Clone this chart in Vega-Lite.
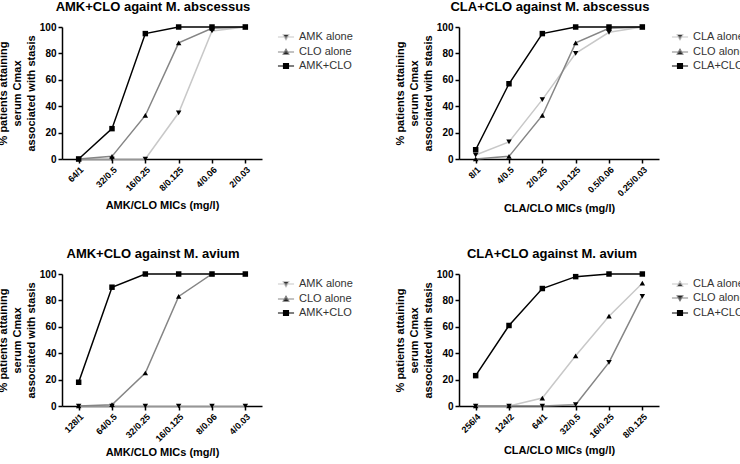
{
  "$schema": "https://vega.github.io/schema/vega-lite/v6.json",
  "background": "white",
  "padding": {"left": -3, "top": 1, "right": 0, "bottom": 0},
  "datasets": {
    "p1": [
      {"mic": "64/1", "series": "AMK alone", "pct": 0},
      {"mic": "32/0.5", "series": "AMK alone", "pct": 0},
      {"mic": "16/0.25", "series": "AMK alone", "pct": 0},
      {"mic": "8/0.125", "series": "AMK alone", "pct": 35},
      {"mic": "4/0.06", "series": "AMK alone", "pct": 97},
      {"mic": "2/0.03", "series": "AMK alone", "pct": 100},
      {"mic": "64/1", "series": "CLO alone", "pct": 0},
      {"mic": "32/0.5", "series": "CLO alone", "pct": 2},
      {"mic": "16/0.25", "series": "CLO alone", "pct": 33},
      {"mic": "8/0.125", "series": "CLO alone", "pct": 88},
      {"mic": "4/0.06", "series": "CLO alone", "pct": 99},
      {"mic": "2/0.03", "series": "CLO alone", "pct": 100},
      {"mic": "64/1", "series": "AMK+CLO", "pct": 0},
      {"mic": "32/0.5", "series": "AMK+CLO", "pct": 23},
      {"mic": "16/0.25", "series": "AMK+CLO", "pct": 95},
      {"mic": "8/0.125", "series": "AMK+CLO", "pct": 100},
      {"mic": "4/0.06", "series": "AMK+CLO", "pct": 100},
      {"mic": "2/0.03", "series": "AMK+CLO", "pct": 100}
    ],
    "p2": [
      {"mic": "8/1", "series": "CLA alone", "pct": 3},
      {"mic": "4/0.5", "series": "CLA alone", "pct": 13},
      {"mic": "2/0.25", "series": "CLA alone", "pct": 45},
      {"mic": "1/0.125", "series": "CLA alone", "pct": 80},
      {"mic": "0.5/0.06", "series": "CLA alone", "pct": 96},
      {"mic": "0.25/0.03", "series": "CLA alone", "pct": 100},
      {"mic": "8/1", "series": "CLO alone", "pct": 0},
      {"mic": "4/0.5", "series": "CLO alone", "pct": 2},
      {"mic": "2/0.25", "series": "CLO alone", "pct": 33},
      {"mic": "1/0.125", "series": "CLO alone", "pct": 88},
      {"mic": "0.5/0.06", "series": "CLO alone", "pct": 99},
      {"mic": "0.25/0.03", "series": "CLO alone", "pct": 100},
      {"mic": "8/1", "series": "CLA+CLO", "pct": 7},
      {"mic": "4/0.5", "series": "CLA+CLO", "pct": 57},
      {"mic": "2/0.25", "series": "CLA+CLO", "pct": 95},
      {"mic": "1/0.125", "series": "CLA+CLO", "pct": 100},
      {"mic": "0.5/0.06", "series": "CLA+CLO", "pct": 100},
      {"mic": "0.25/0.03", "series": "CLA+CLO", "pct": 100}
    ],
    "p3": [
      {"mic": "128/1", "series": "AMK alone", "pct": 0},
      {"mic": "64/0.5", "series": "AMK alone", "pct": 0},
      {"mic": "32/0.25", "series": "AMK alone", "pct": 0},
      {"mic": "16/0.125", "series": "AMK alone", "pct": 0},
      {"mic": "8/0.06", "series": "AMK alone", "pct": 0},
      {"mic": "4/0.03", "series": "AMK alone", "pct": 0},
      {"mic": "128/1", "series": "CLO alone", "pct": 0},
      {"mic": "64/0.5", "series": "CLO alone", "pct": 1},
      {"mic": "32/0.25", "series": "CLO alone", "pct": 25},
      {"mic": "16/0.125", "series": "CLO alone", "pct": 83},
      {"mic": "8/0.06", "series": "CLO alone", "pct": 100},
      {"mic": "4/0.03", "series": "CLO alone", "pct": 100},
      {"mic": "128/1", "series": "AMK+CLO", "pct": 18},
      {"mic": "64/0.5", "series": "AMK+CLO", "pct": 90},
      {"mic": "32/0.25", "series": "AMK+CLO", "pct": 100},
      {"mic": "16/0.125", "series": "AMK+CLO", "pct": 100},
      {"mic": "8/0.06", "series": "AMK+CLO", "pct": 100},
      {"mic": "4/0.03", "series": "AMK+CLO", "pct": 100}
    ],
    "p4": [
      {"mic": "256/4", "series": "CLA alone", "pct": 0},
      {"mic": "124/2", "series": "CLA alone", "pct": 0},
      {"mic": "64/1", "series": "CLA alone", "pct": 6},
      {"mic": "32/0.5", "series": "CLA alone", "pct": 38},
      {"mic": "16/0.25", "series": "CLA alone", "pct": 68},
      {"mic": "8/0.125", "series": "CLA alone", "pct": 93},
      {"mic": "256/4", "series": "CLO alone", "pct": 0},
      {"mic": "124/2", "series": "CLO alone", "pct": 0},
      {"mic": "64/1", "series": "CLO alone", "pct": 0},
      {"mic": "32/0.5", "series": "CLO alone", "pct": 1},
      {"mic": "16/0.25", "series": "CLO alone", "pct": 33},
      {"mic": "8/0.125", "series": "CLO alone", "pct": 83},
      {"mic": "256/4", "series": "CLA+CLO", "pct": 23},
      {"mic": "124/2", "series": "CLA+CLO", "pct": 61},
      {"mic": "64/1", "series": "CLA+CLO", "pct": 89},
      {"mic": "32/0.5", "series": "CLA+CLO", "pct": 98},
      {"mic": "16/0.25", "series": "CLA+CLO", "pct": 100},
      {"mic": "8/0.125", "series": "CLA+CLO", "pct": 100}
    ]
  },
  "vconcat": [
    {
      "hconcat": [
        {
          "width": 200, "height": 132,
          "title": {"text": "AMK+CLO againt M. abscessus", "dx": -9},
          "data": {"name": "p1"},
          "encoding": {
            "x": {"field": "mic", "type": "nominal", "sort": ["64/1", "32/0.5", "16/0.25", "8/0.125", "4/0.06", "2/0.03"], "scale": {"type": "point", "padding": 0.5}, "axis": {"title": "AMK/CLO MICs (mg/l)", "titlePadding": 7}},
            "y": {"field": "pct", "type": "quantitative", "scale": {"domain": [0, 100]}, "axis": {"title": ["% patients attaining", "serum Cmax", "associated with stasis"], "values": [0, 20, 40, 60, 80, 100]}}
          },
          "layer": [
            {"mark": {"type": "line", "strokeWidth": 1.5}, "encoding": {"color": {"field": "series", "type": "nominal", "scale": {"domain": ["AMK alone", "CLO alone", "AMK+CLO"], "range": ["#c8c8c8", "#858585", "#000000"]}, "legend": null}}},
            {"mark": {"type": "point", "filled": true, "color": "black", "size": 30, "opacity": 1}, "encoding": {"shape": {"field": "series", "type": "nominal", "scale": {"domain": ["AMK alone", "CLO alone", "AMK+CLO"], "range": ["triangle-down", "triangle-up", "square"]}, "legend": null}}},
            {"mark": {"type": "point", "filled": false, "fill": "black", "opacity": 0, "strokeWidth": 1.1},
             "encoding": {
               "color": {"field": "series", "type": "nominal", "scale": {"domain": ["AMK alone", "CLO alone", "AMK+CLO"], "range": ["#c8c8c8", "#858585", "#000000"]}, "legend": {"title": null, "symbolOpacity": 1, "symbolFillColor": "black", "encode": {"symbols": {"fill": {"value": "black"}, "strokeWidth": {"value": 1.1}}}}},
               "shape": {"field": "series", "type": "nominal", "scale": {"domain": ["AMK alone", "CLO alone", "AMK+CLO"], "range": ["M-1.15,0H1.15M-0.42,-0.32L0.42,-0.32L0,0.42Z", "M-1.15,0H1.15M-0.42,0.32L0,-0.42L0.42,0.32Z", "M-1.15,0H1.15M-0.36,-0.36H0.36V0.36H-0.36Z"]}, "legend": {"title": null, "symbolOpacity": 1, "symbolFillColor": "black", "encode": {"symbols": {"fill": {"value": "black"}, "strokeWidth": {"value": 1.1}}}}}
             }}
          ],
          "resolve": {"scale": {"color": "independent", "shape": "independent"}}
        },
        {
          "width": 200, "height": 132,
          "title": {"text": "CLA+CLO against M. abscessus", "dx": -9},
          "data": {"name": "p2"},
          "encoding": {
            "x": {"field": "mic", "type": "nominal", "sort": ["8/1", "4/0.5", "2/0.25", "1/0.125", "0.5/0.06", "0.25/0.03"], "scale": {"type": "point", "padding": 0.5}, "axis": {"title": "CLA/CLO MICs (mg/l)", "titlePadding": 5}},
            "y": {"field": "pct", "type": "quantitative", "scale": {"domain": [0, 100]}, "axis": {"title": ["% patients attaining", "serum Cmax", "associated with stasis"], "values": [0, 20, 40, 60, 80, 100]}}
          },
          "layer": [
            {"mark": {"type": "line", "strokeWidth": 1.5}, "encoding": {"color": {"field": "series", "type": "nominal", "scale": {"domain": ["CLA alone", "CLO alone", "CLA+CLO"], "range": ["#c8c8c8", "#858585", "#000000"]}, "legend": null}}},
            {"mark": {"type": "point", "filled": true, "color": "black", "size": 30, "opacity": 1}, "encoding": {"shape": {"field": "series", "type": "nominal", "scale": {"domain": ["CLA alone", "CLO alone", "CLA+CLO"], "range": ["triangle-down", "triangle-up", "square"]}, "legend": null}}},
            {"mark": {"type": "point", "filled": false, "fill": "black", "opacity": 0, "strokeWidth": 1.1},
             "encoding": {
               "color": {"field": "series", "type": "nominal", "scale": {"domain": ["CLA alone", "CLO alone", "CLA+CLO"], "range": ["#c8c8c8", "#858585", "#000000"]}, "legend": {"title": null, "symbolOpacity": 1, "symbolFillColor": "black", "offset": 11, "encode": {"symbols": {"fill": {"value": "black"}, "strokeWidth": {"value": 1.1}}}}},
               "shape": {"field": "series", "type": "nominal", "scale": {"domain": ["CLA alone", "CLO alone", "CLA+CLO"], "range": ["M-1.15,0H1.15M-0.42,-0.32L0.42,-0.32L0,0.42Z", "M-1.15,0H1.15M-0.42,0.32L0,-0.42L0.42,0.32Z", "M-1.15,0H1.15M-0.36,-0.36H0.36V0.36H-0.36Z"]}, "legend": {"title": null, "symbolOpacity": 1, "symbolFillColor": "black", "offset": 11, "encode": {"symbols": {"fill": {"value": "black"}, "strokeWidth": {"value": 1.1}}}}}
             }}
          ],
          "resolve": {"scale": {"color": "independent", "shape": "independent"}}
        }
      ],
      "spacing": 39,
      "resolve": {"scale": {"x": "independent", "y": "independent"}}
    },
    {
      "hconcat": [
        {
          "width": 200, "height": 132,
          "title": {"text": "AMK+CLO against M. avium", "dx": -9},
          "data": {"name": "p3"},
          "encoding": {
            "x": {"field": "mic", "type": "nominal", "sort": ["128/1", "64/0.5", "32/0.25", "16/0.125", "8/0.06", "4/0.03"], "scale": {"type": "point", "padding": 0.5}, "axis": {"title": "AMK/CLO MICs (mg/l)", "titlePadding": 3}},
            "y": {"field": "pct", "type": "quantitative", "scale": {"domain": [0, 100]}, "axis": {"title": ["% patients attaining", "serum Cmax", "associated with stasis"], "values": [0, 20, 40, 60, 80, 100]}}
          },
          "layer": [
            {"mark": {"type": "line", "strokeWidth": 1.5}, "encoding": {"color": {"field": "series", "type": "nominal", "scale": {"domain": ["AMK alone", "CLO alone", "AMK+CLO"], "range": ["#c8c8c8", "#858585", "#000000"]}, "legend": null}}},
            {"mark": {"type": "point", "filled": true, "color": "black", "size": 30, "opacity": 1}, "encoding": {"shape": {"field": "series", "type": "nominal", "scale": {"domain": ["AMK alone", "CLO alone", "AMK+CLO"], "range": ["triangle-down", "triangle-up", "square"]}, "legend": null}}},
            {"mark": {"type": "point", "filled": false, "fill": "black", "opacity": 0, "strokeWidth": 1.1},
             "encoding": {
               "color": {"field": "series", "type": "nominal", "scale": {"domain": ["AMK alone", "CLO alone", "AMK+CLO"], "range": ["#c8c8c8", "#858585", "#000000"]}, "legend": {"title": null, "symbolOpacity": 1, "symbolFillColor": "black", "encode": {"symbols": {"fill": {"value": "black"}, "strokeWidth": {"value": 1.1}}}}},
               "shape": {"field": "series", "type": "nominal", "scale": {"domain": ["AMK alone", "CLO alone", "AMK+CLO"], "range": ["M-1.15,0H1.15M-0.42,-0.32L0.42,-0.32L0,0.42Z", "M-1.15,0H1.15M-0.42,0.32L0,-0.42L0.42,0.32Z", "M-1.15,0H1.15M-0.36,-0.36H0.36V0.36H-0.36Z"]}, "legend": {"title": null, "symbolOpacity": 1, "symbolFillColor": "black", "encode": {"symbols": {"fill": {"value": "black"}, "strokeWidth": {"value": 1.1}}}}}
             }}
          ],
          "resolve": {"scale": {"color": "independent", "shape": "independent"}}
        },
        {
          "width": 200, "height": 132,
          "title": {"text": "CLA+CLO against M. avium", "dx": -7},
          "data": {"name": "p4"},
          "encoding": {
            "x": {"field": "mic", "type": "nominal", "sort": ["256/4", "124/2", "64/1", "32/0.5", "16/0.25", "8/0.125"], "scale": {"type": "point", "padding": 0.5}, "axis": {"title": "CLA/CLO MICs (mg/l)", "titlePadding": 5}},
            "y": {"field": "pct", "type": "quantitative", "scale": {"domain": [0, 100]}, "axis": {"title": ["% patients attaining", "serum Cmax", "associated with stasis"], "values": [0, 20, 40, 60, 80, 100]}}
          },
          "layer": [
            {"mark": {"type": "line", "strokeWidth": 1.5}, "encoding": {"color": {"field": "series", "type": "nominal", "scale": {"domain": ["CLA alone", "CLO alone", "CLA+CLO"], "range": ["#c8c8c8", "#858585", "#000000"]}, "legend": null}}},
            {"mark": {"type": "point", "filled": true, "color": "black", "size": 30, "opacity": 1}, "encoding": {"shape": {"field": "series", "type": "nominal", "scale": {"domain": ["CLA alone", "CLO alone", "CLA+CLO"], "range": ["triangle-up", "triangle-down", "square"]}, "legend": null}}},
            {"mark": {"type": "point", "filled": false, "fill": "black", "opacity": 0, "strokeWidth": 1.1},
             "encoding": {
               "color": {"field": "series", "type": "nominal", "scale": {"domain": ["CLA alone", "CLO alone", "CLA+CLO"], "range": ["#c8c8c8", "#858585", "#000000"]}, "legend": {"title": null, "symbolOpacity": 1, "symbolFillColor": "black", "offset": 11, "encode": {"symbols": {"fill": {"value": "black"}, "strokeWidth": {"value": 1.1}}}}},
               "shape": {"field": "series", "type": "nominal", "scale": {"domain": ["CLA alone", "CLO alone", "CLA+CLO"], "range": ["M-1.15,0H1.15M-0.42,0.32L0,-0.42L0.42,0.32Z", "M-1.15,0H1.15M-0.42,-0.32L0.42,-0.32L0,0.42Z", "M-1.15,0H1.15M-0.36,-0.36H0.36V0.36H-0.36Z"]}, "legend": {"title": null, "symbolOpacity": 1, "symbolFillColor": "black", "offset": 11, "encode": {"symbols": {"fill": {"value": "black"}, "strokeWidth": {"value": 1.1}}}}}
             }}
          ],
          "resolve": {"scale": {"color": "independent", "shape": "independent"}}
        }
      ],
      "spacing": 39,
      "resolve": {"scale": {"x": "independent", "y": "independent"}}
    }
  ],
  "spacing": 34,
  "resolve": {"scale": {"x": "independent", "y": "independent"}},
  "config": {
    "font": "Liberation Sans",
    "view": {"stroke": null},
    "axis": {
      "grid": false,
      "domainColor": "black", "domainWidth": 1.5,
      "tickColor": "black", "tickWidth": 1.5, "tickSize": 4,
      "labelFont": "Liberation Sans", "labelFontSize": 10, "labelFontWeight": "bold", "labelColor": "black", "labelPadding": 2,
      "titleFont": "Liberation Sans", "titleFontSize": 11, "titleFontWeight": "bold", "titleColor": "black"
    },
    "axisX": {"labelAngle": -45, "labelFontSize": 9},
    "axisY": {"titlePadding": 3, "titleLineHeight": 14},
    "legend": {
      "labelFont": "Liberation Sans", "labelFontSize": 11, "labelColor": "#333333",
      "symbolSize": 196, "rowPadding": 1, "labelOffset": 5, "offset": 14, "padding": 2, "symbolStrokeWidth": 1.1
    },
    "title": {"font": "Liberation Sans", "fontSize": 13, "fontWeight": "bold", "color": "black", "offset": 8}
  }
}
